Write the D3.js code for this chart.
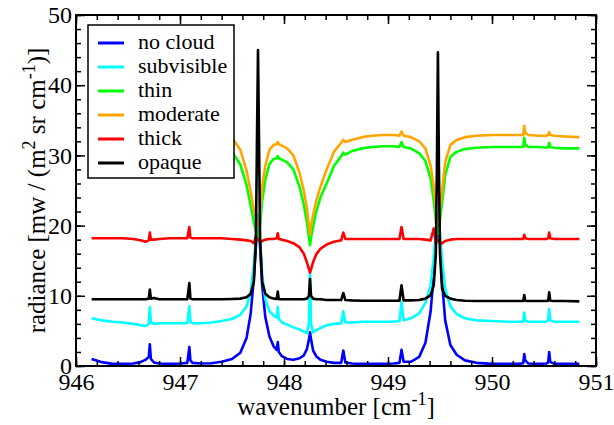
<!DOCTYPE html>
<html><head><meta charset="utf-8">
<script src="https://cdn.jsdelivr.net/npm/d3@7"></script>
<style>body{margin:0;background:#fff}svg{display:block}</style>
</head><body><svg id="c" width="614" height="425"></svg>
<script>
const wavenumber = [946.15,946.25,946.35,946.45,946.55,946.62,946.67,946.70,946.71,946.72,
946.75,946.80,946.90,947.00,947.07,947.09,947.10,947.12,947.20,947.30,
947.40,947.50,947.58,947.64,947.68,947.71,947.73,947.74,947.75,947.76,
947.77,947.79,947.82,947.86,947.90,947.93,947.94,947.95,947.98,948.03,
948.09,948.15,948.19,948.22,948.24,948.25,948.26,948.28,948.31,948.35,
948.41,948.48,948.55,948.57,948.59,948.65,948.75,948.85,948.95,949.05,
949.11,949.13,949.15,949.22,949.30,949.36,949.41,949.44,949.46,949.47,
949.48,949.49,949.50,949.52,949.55,949.60,949.66,949.74,949.85,950.00,
950.15,950.25,950.30,950.31,950.32,950.35,950.45,950.52,950.54,950.55,
950.56,950.60,950.70,950.84];

const noCloud = [1.0,0.55,0.3,0.3,0.35,0.55,0.9,1.3,3.1,1.0,
0.5,0.35,0.3,0.35,0.45,2.7,0.8,0.45,0.35,0.4,
0.6,1.0,1.9,4.0,7.5,12.5,17,19.5,20.5,19.5,
17,11.5,7.0,4.2,2.8,2.3,3.4,2.0,1.4,1.0,
0.9,1.1,1.5,2.4,3.8,4.8,3.8,2.2,1.4,0.9,
0.6,0.45,0.45,2.2,0.5,0.35,0.3,0.3,0.3,0.35,
0.45,2.3,0.6,0.6,1.3,3.3,7.8,13,17.5,19.5,
20.5,19.5,17.5,12,6.5,3.0,1.6,0.8,0.45,0.3,
0.3,0.3,0.4,1.7,0.8,0.35,0.3,0.35,0.5,2.0,
0.6,0.3,0.3,0.3];

const subvisible = [6.8,6.5,6.3,6.2,6.0,5.8,5.7,6.0,8.4,6.2,
6.0,6.1,6.1,6.1,6.1,8.5,6.3,6.1,6.1,6.2,
6.4,6.7,7.3,8.5,10.5,14.5,18,20.5,21.5,20.5,
18,13,9.5,7.8,7.2,6.9,8.4,6.7,6.2,5.9,
5.5,5.2,4.9,4.7,6.0,13.5,6.0,4.8,5.1,5.4,
5.8,6.0,6.1,7.8,6.2,6.2,6.3,6.3,6.3,6.3,
6.4,9.1,6.5,6.8,7.5,9.0,11.5,15.5,19,20.5,
21.5,20.5,19,15,11,8.5,7.4,6.8,6.5,6.4,
6.3,6.3,6.3,7.6,6.5,6.3,6.3,6.3,6.5,8.1,
6.5,6.3,6.3,6.3];

const thin = [31.4,31.4,31.4,31.3,31.2,31.0,30.9,30.9,31.2,30.9,
30.9,31.0,31.1,31.0,30.9,31.4,30.9,30.8,30.9,30.9,
30.8,30.5,28.7,25.8,22.8,20.5,19.2,18.6,18.4,18.8,
20.2,23.5,26.5,28.8,29.5,29.6,29.9,29.6,29.4,29.0,
28.0,25.5,23.0,20.5,18.3,17.2,18.3,19.8,22.0,24.0,
26.0,28.5,29.9,30.4,30.1,30.6,31.0,31.2,31.3,31.3,
31.2,31.9,31.2,31.0,30.3,29.2,26.7,23.5,20.8,19.4,
18.8,19.4,20.8,23.2,27.2,29.8,30.5,30.9,31.1,31.2,
31.2,31.2,31.2,32.5,31.5,31.2,31.2,31.1,31.2,31.8,
31.2,31.1,31.0,31.0];

const moderate = [33.0,33.0,33.0,32.9,32.8,32.6,32.5,32.5,32.8,32.5,
32.5,32.6,32.7,32.6,32.5,33.0,32.5,32.4,32.5,32.6,
32.6,32.5,30.8,27.8,24.8,22.3,21.0,20.3,20.0,20.5,
22.0,25.5,28.5,30.8,31.5,31.6,31.9,31.6,31.4,31.0,
30.0,27.5,25.0,22.5,20.0,18.7,20.0,21.5,23.5,25.5,
28.0,30.5,31.8,32.2,31.9,32.2,32.6,32.8,32.9,32.9,
32.8,33.4,32.8,32.6,32.0,31.0,28.5,25.5,22.5,21.0,
20.3,21.0,22.5,25.0,29.0,31.5,32.2,32.6,32.8,32.9,
32.9,32.9,32.9,34.2,33.2,32.9,32.8,32.8,32.9,33.3,
32.9,32.8,32.7,32.6];

const thick = [18.2,18.2,18.2,18.2,18.1,17.9,17.7,17.9,19.0,18.0,
18.0,18.1,18.2,18.2,18.2,19.8,18.3,18.2,18.2,18.2,
18.2,18.1,18.0,17.9,17.8,17.5,18.5,18.0,18.0,18.0,
17.6,17.8,18.0,18.1,18.1,18.2,18.9,18.1,18.0,17.8,
17.5,16.9,16.0,14.8,13.8,13.3,13.8,14.8,15.9,16.7,
17.3,17.7,17.9,19.0,18.1,18.1,18.1,18.1,18.1,18.1,
18.1,19.8,18.1,18.1,18.1,18.0,17.9,19.6,17.5,17.8,
18.0,17.8,17.4,17.5,17.8,18.0,18.1,18.1,18.1,18.1,
18.1,18.1,18.1,18.7,18.2,18.1,18.1,18.1,18.2,19.0,
18.2,18.1,18.1,18.1];

const opaque = [9.5,9.5,9.5,9.5,9.5,9.5,9.5,9.6,10.9,9.6,
9.7,9.5,9.5,9.5,9.5,11.8,9.6,9.5,9.5,9.5,
9.5,9.55,9.6,9.8,10.3,12,18,32,45,32,
18,12,10.3,9.8,9.6,9.55,10.6,9.5,9.5,9.5,
9.5,9.5,9.5,9.6,10,12.4,10,9.6,9.5,9.5,
9.4,9.4,9.4,10.4,9.4,9.35,9.3,9.3,9.3,9.3,
9.3,11.5,9.35,9.35,9.4,9.6,10.1,11.5,16,28,
44.7,28,16,11,10,9.6,9.4,9.3,9.25,9.25,
9.25,9.25,9.25,10.1,9.3,9.25,9.25,9.25,9.3,10.5,
9.3,9.25,9.25,9.2];

const seriesNames = ["no cloud","subvisible","thin","moderate","thick","opaque"];
const seriesValues = [noCloud, subvisible, thin, moderate, thick, opaque];
const seriesColors = ["#0000ff","#00ffff","#00ff00","#ffa500","#ff0000","#000000"];
const xTickLabels = [946,947,948,949,950,951];
const yTickLabels = [0,10,20,30,40,50];

const FONT="'Liberation Serif'";
const W=614,H=425,L=76,R=596,T=15,B=366;
const x=d3.scaleLinear().domain([946,951]).range([L,R]);
const y=d3.scaleLinear().domain([0,50]).range([B,T]);
const svg=d3.select("#c");
svg.append("rect").attr("width",W).attr("height",H).attr("fill","#fff");

const line=d3.line().x((d,i)=>x(wavenumber[i])).y(d=>y(d));
seriesValues.forEach((vals,k)=>{
  svg.append("path").attr("d",line(vals)).attr("fill","none")
    .attr("stroke",seriesColors[k]).attr("stroke-width",2.6)
    .attr("stroke-linejoin","round");
});

const xMinor=d3.range(946,951.0001,0.2).map(v=>+v.toFixed(1));
const yMinor=d3.range(0,50.0001,2);
function styleAxis(g){g.select(".domain").remove();g.selectAll(".tick line").attr("stroke","#000").attr("stroke-width",1.5);}
const fmt=d3.format("d");
svg.append("g").attr("transform",`translate(0,${B})`).call(d3.axisBottom(x).tickValues(xMinor).tickSize(-5).tickFormat("")).call(styleAxis);
svg.append("g").attr("transform",`translate(0,${B})`).call(d3.axisBottom(x).tickValues(xTickLabels).tickSize(-9).tickPadding(7).tickFormat(fmt)).call(styleAxis)
  .selectAll("text").style("font-family",FONT).style("font-size","24px").attr("fill","#000");
svg.append("g").attr("transform",`translate(0,${T})`).call(d3.axisTop(x).tickValues(xMinor).tickSize(-5).tickFormat("")).call(styleAxis);
svg.append("g").attr("transform",`translate(0,${T})`).call(d3.axisTop(x).tickValues(xTickLabels).tickSize(-9).tickFormat("")).call(styleAxis);
svg.append("g").attr("transform",`translate(${L},0)`).call(d3.axisLeft(y).tickValues(yMinor).tickSize(-5).tickFormat("")).call(styleAxis);
svg.append("g").attr("transform",`translate(${L},0)`).call(d3.axisLeft(y).tickValues(yTickLabels).tickSize(-9).tickPadding(4).tickFormat(fmt)).call(styleAxis)
  .selectAll("text").style("font-family",FONT).style("font-size","24px").attr("fill","#000");
svg.append("g").attr("transform",`translate(${R},0)`).call(d3.axisRight(y).tickValues(yMinor).tickSize(-5).tickFormat("")).call(styleAxis);
svg.append("g").attr("transform",`translate(${R},0)`).call(d3.axisRight(y).tickValues(yTickLabels).tickSize(-9).tickFormat("")).call(styleAxis);

svg.append("rect").attr("x",L).attr("y",T).attr("width",R-L).attr("height",B-T)
  .attr("fill","none").attr("stroke","#000").attr("stroke-width",2);

const xt=svg.append("text").attr("x",(L+R)/2).attr("y",415).attr("text-anchor","middle")
  .style("font-family",FONT).style("font-size","25px");
xt.append("tspan").text("wavenumber [cm");
xt.append("tspan").attr("dy",-10).style("font-size","18px").text("-1");
xt.append("tspan").attr("dy",10).text("]");

const yt=svg.append("text").attr("transform",`translate(45,${(T+B)/2}) rotate(-90)`).attr("text-anchor","middle")
  .style("font-family",FONT).style("font-size","25px");
yt.append("tspan").text("radiance [mw / (m");
yt.append("tspan").attr("dy",-10).style("font-size","18px").text("2");
yt.append("tspan").attr("dy",10).text(" sr cm");
yt.append("tspan").attr("dy",-10).style("font-size","18px").text("-1");
yt.append("tspan").attr("dy",10).text(")]");

const lg=svg.append("g");
lg.append("rect").attr("x",88).attr("y",25).attr("width",146).attr("height",153)
  .attr("fill","#fff").attr("stroke","#000").attr("stroke-width",1.5);
seriesNames.forEach((n,k)=>{
  const yy=43+k*24;
  lg.append("line").attr("x1",98).attr("x2",124).attr("y1",yy).attr("y2",yy)
    .attr("stroke",seriesColors[k]).attr("stroke-width",3);
  lg.append("text").attr("x",138).attr("y",yy+6).style("font-family",FONT).style("font-size","22px").text(n);
});
</script></body></html>
